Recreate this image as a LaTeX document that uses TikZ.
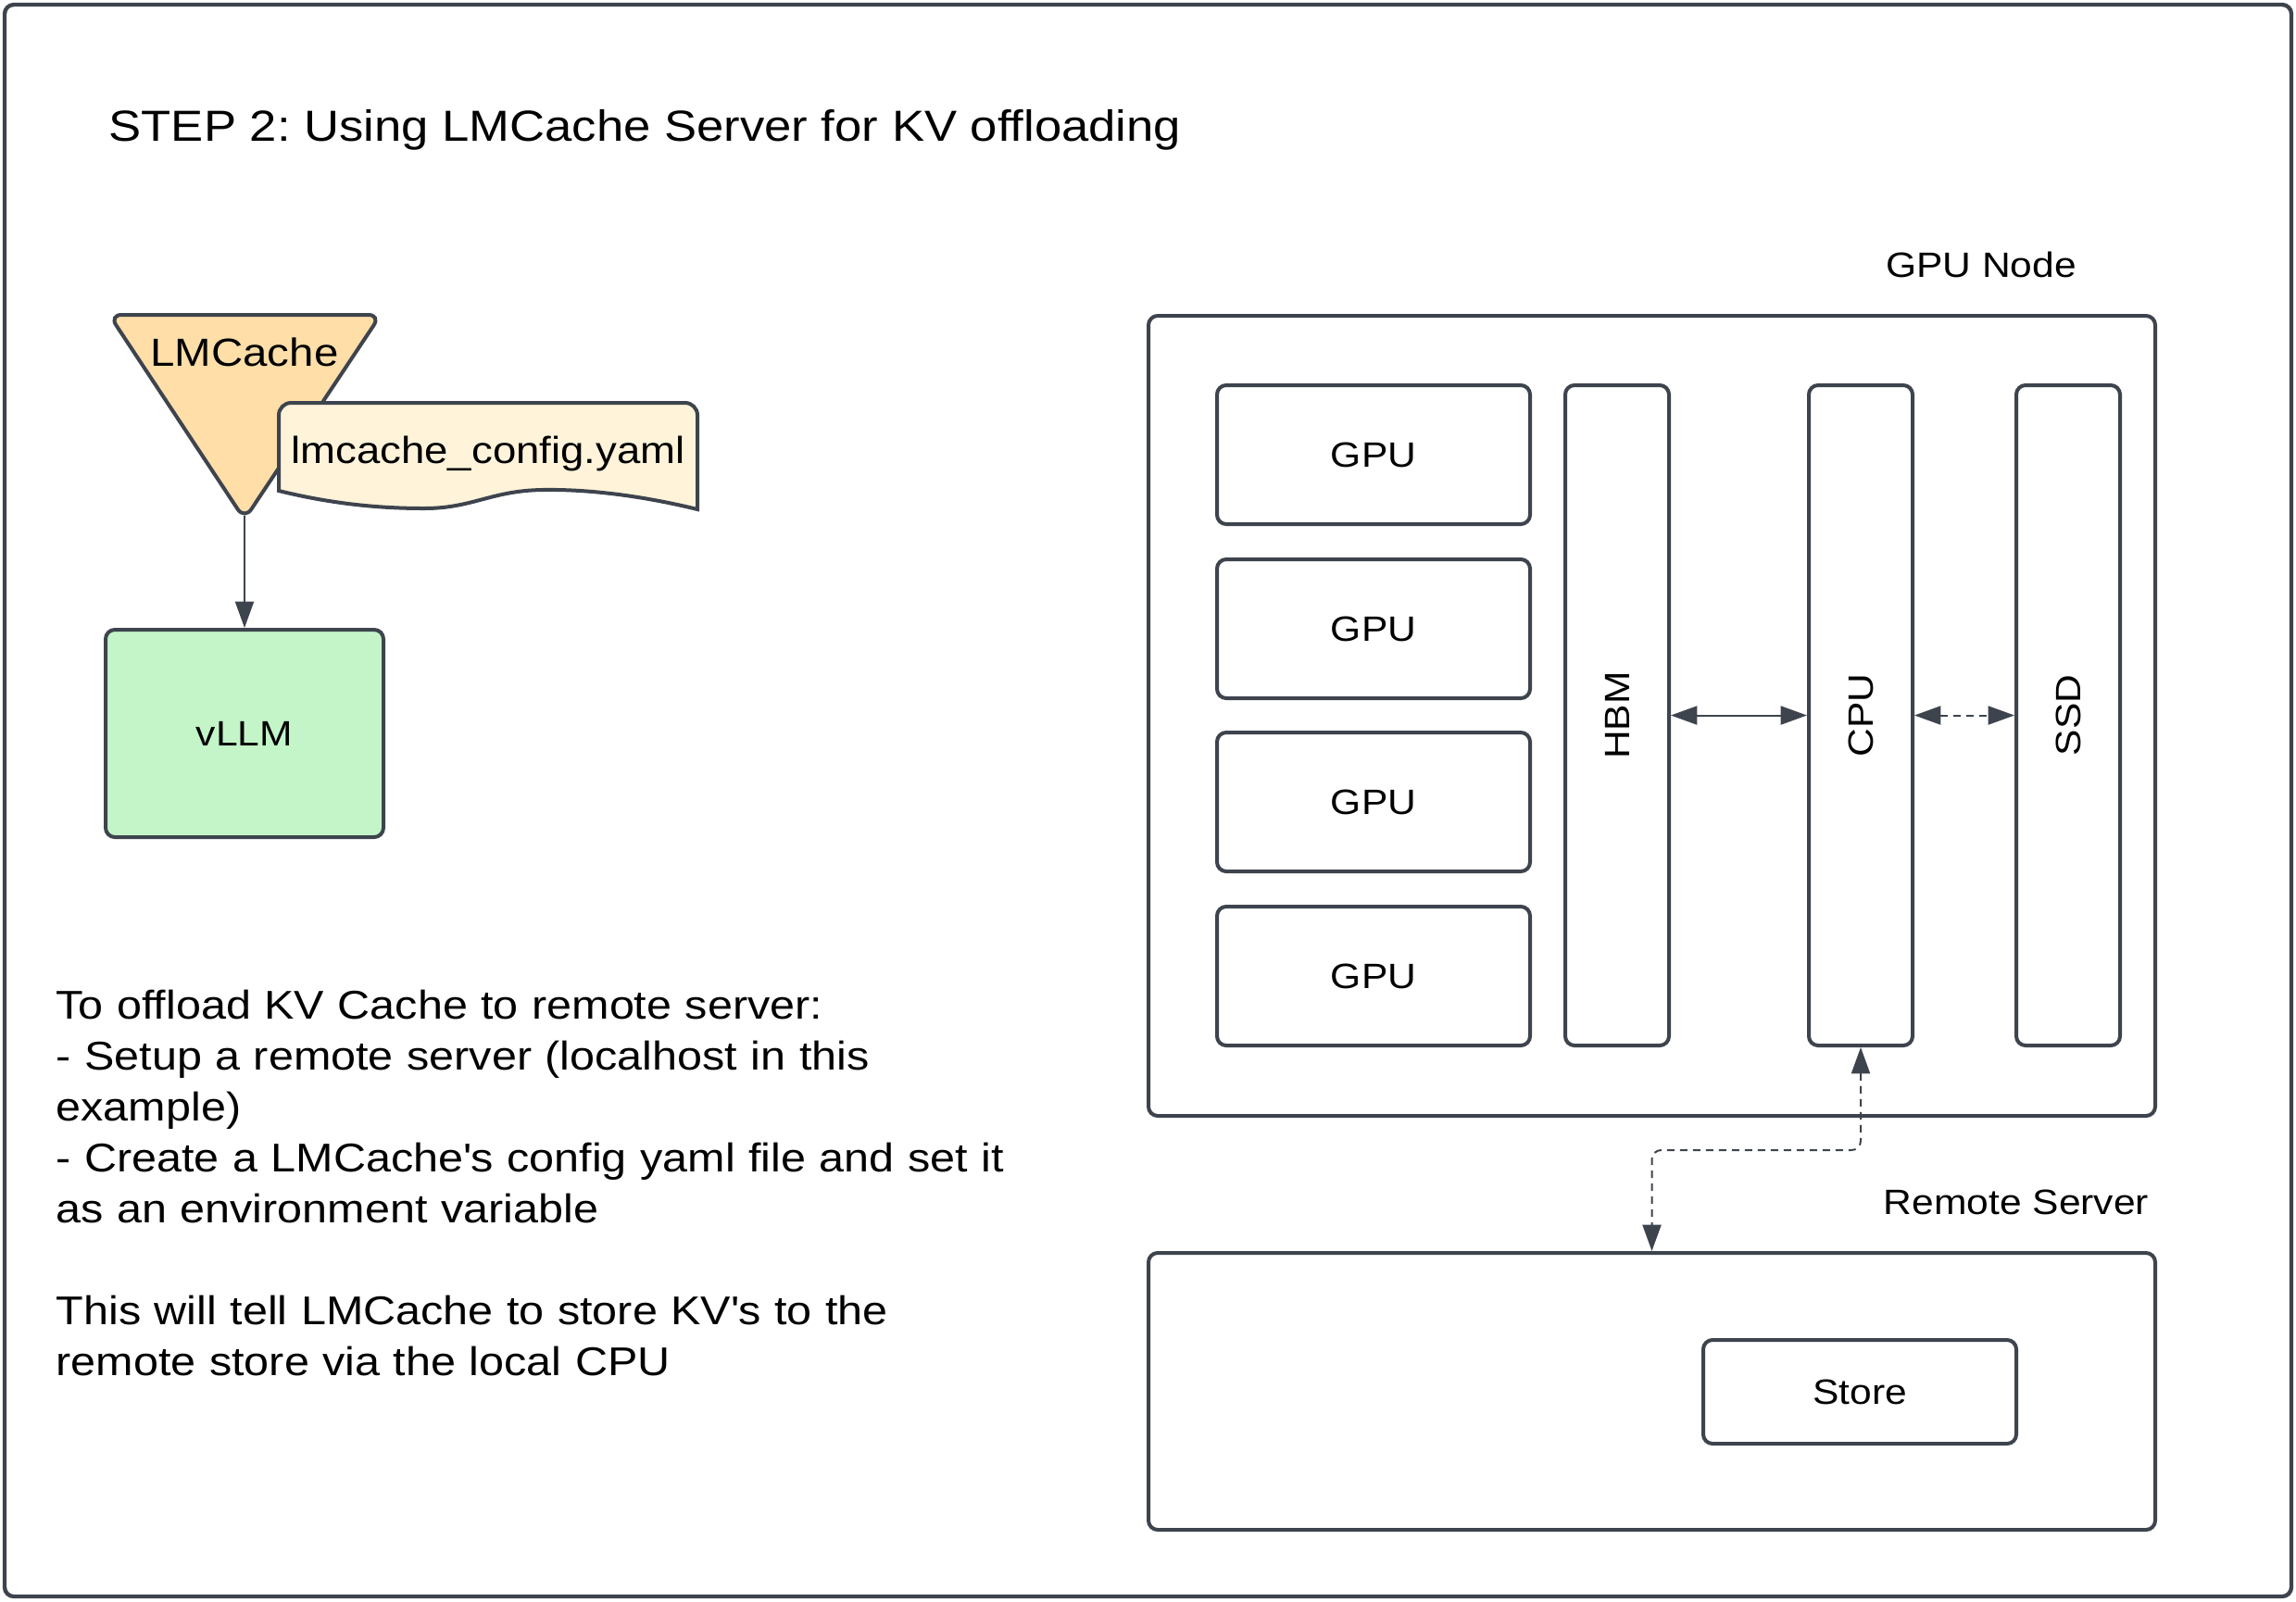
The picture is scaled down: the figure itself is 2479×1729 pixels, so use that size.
\documentclass[tikz,border=0pt]{standalone}
\usepackage{fontspec}
\setmainfont{Liberation Sans}[FakeStretch=1.12]
\usetikzlibrary{arrows.meta}
\definecolor{edge}{HTML}{3E444D}
\definecolor{lmfill}{HTML}{FFDEA8}
\definecolor{docfill}{HTML}{FFF3DA}
\definecolor{vfill}{HTML}{C3F5C9}
\frenchspacing
\begin{document}
\begin{tikzpicture}[x=0.3pt,y=-0.3pt,
  box/.style={draw=edge,line width=1.2pt,rounded corners=3pt,fill=white,inner sep=0pt},
  lbl/.style={font=\fontsize{11.4}{13.7}\selectfont,text=black},
  conn/.style={draw=edge,line width=0.6pt,{Triangle[length=8.5pt,width=6pt]}-{Triangle[length=8.5pt,width=6pt]}},
  oneway/.style={draw=edge,line width=0.6pt,-{Triangle[length=8.5pt,width=6pt]}},
  dsh/.style={dash pattern=on 2.4pt off 1.8pt}
]
\useasboundingbox (0,0) rectangle (2479,1729);
\draw[edge,line width=1.3pt,rounded corners=3pt] (5,5) rectangle (2474,1724);

% title
\node[anchor=base west,inner sep=0pt,font=\fontsize{14.1}{17}\selectfont] (title) at (117,152)
  {STEP 2: Using LMCache Server for KV offloading};

% LMCache triangle
\draw[draw=edge,fill=lmfill,line width=1.2pt,rounded corners=4pt]
  (264,340) -- (411,340) -- (264,561) -- (118,340) -- cycle;
\coordinate (lmtip) at (264,557);
\node[anchor=base,inner sep=0pt,font=\fontsize{12.7}{15}\selectfont] (lmc) at (264,395) {LMCache};

% config document
\draw[draw=edge,fill=docfill,line width=1.2pt]
  (301,530) [rounded corners=4pt] -- (301,435) -- (753,435) [sharp corners] -- (753,550)
  .. controls (700,537) and (640,528) .. (585,529)
  .. controls (530,530) and (510,549) .. (458,549)
  .. controls (400,549) and (350,542) .. (301,530) -- cycle;
\node[anchor=base,inner sep=0pt,font=\fontsize{12.2}{14}\selectfont] (cfg) at (527,500) {lmcache\_config.yaml};

% vLLM
\node[box,fill=vfill,lbl,minimum width=90pt,minimum height=67.2pt] (vllm) at (264,792) {vLLM};
\draw[oneway] (lmtip) -- (vllm.north);

% explanation text
\node[anchor=base west,inner sep=0pt,text width=400pt,align=left,
      font=\fontsize{13}{16.5}\selectfont] (note) at (60,1100)
  {To offload KV Cache to remote server:\\
   - Setup a remote server (localhost in this\\
   example)\\
   - Create a LMCache\textquotesingle s config yaml file and set it\\
   as an environment variable\\[16.5pt]
   This will tell LMCache to store KV\textquotesingle s to the\\
   remote store via the local CPU};

% GPU node
\node[lbl] (gpunodelbl) at (2139,286) {GPU Node};
\node[box,minimum width=326.1pt,minimum height=259.2pt] (gpunode) at (1783.5,773) {};
\node[box,lbl,minimum width=101.4pt,minimum height=45pt] (g1) at (1483,491) {GPU};
\node[box,lbl,minimum width=101.4pt,minimum height=45pt] (g2) at (1483,679) {GPU};
\node[box,lbl,minimum width=101.4pt,minimum height=45pt] (g3) at (1483,866) {GPU};
\node[box,lbl,minimum width=101.4pt,minimum height=45pt] (g4) at (1483,1054) {GPU};
\node[box,lbl,rotate=90,minimum width=213.9pt,minimum height=33.6pt] (hbm) at (1746,772.5) {HBM};
\node[box,lbl,rotate=90,minimum width=213.9pt,minimum height=33.6pt] (cpu) at (2009,772.5) {CPU};
\node[box,lbl,rotate=90,minimum width=213.9pt,minimum height=33.6pt] (ssd) at (2233,772.5) {SSD};

\draw[conn] (hbm.south) -- (cpu.north);
\draw[conn,dsh] (cpu.south) -- (ssd.north);

% remote server
\node[lbl] (rslbl) at (2177,1298) {Remote Server};
\node[box,minimum width=326.1pt,minimum height=89.7pt] (rs) at (1783.5,1502.5) {};
\node[box,lbl,minimum width=101.4pt,minimum height=33.6pt] (store) at (2008,1503) {Store};

\draw[conn,dsh,rounded corners=3pt] (cpu.west) -- ++(0,111) -| (rs.north);
\end{tikzpicture}
\end{document}
